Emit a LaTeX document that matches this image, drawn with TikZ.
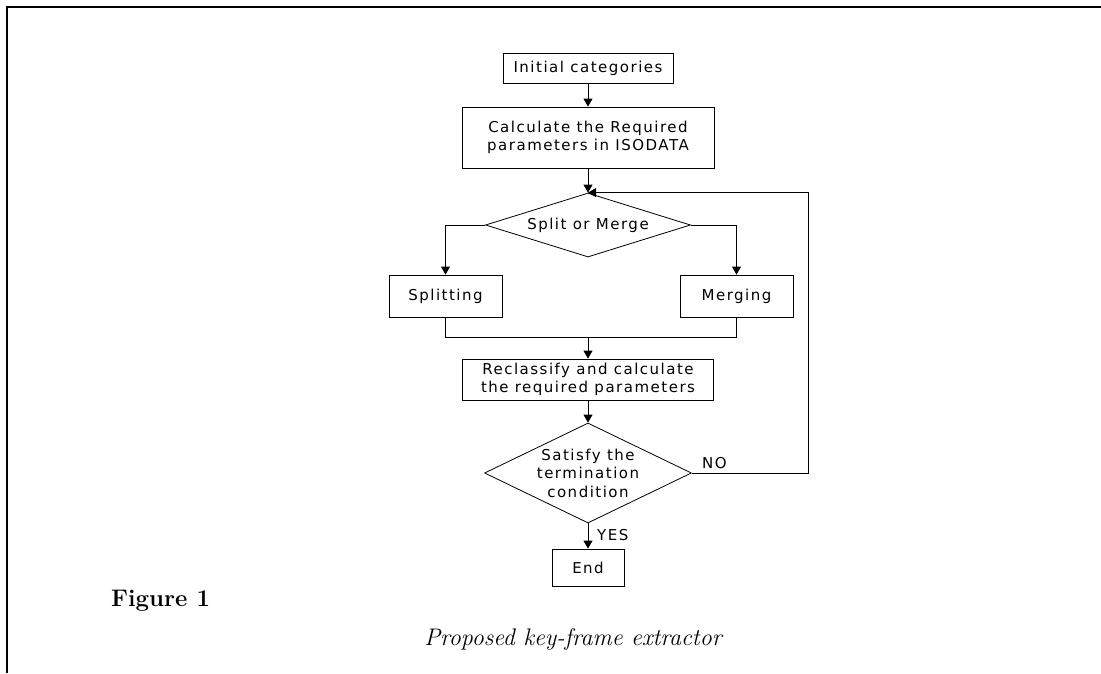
\documentclass[tikz,border=0pt]{standalone}
\usepackage{fontspec}
\newfontfamily\boxfont[LetterSpace=10]{DejaVu Sans}
\usetikzlibrary{shapes.geometric,arrows.meta}
\begin{document}
\begin{tikzpicture}[x=1pt,y=-1pt,
  boxtxt/.style={font=\boxfont\fontsize{15}{18.5}\selectfont},
  stepbox/.style={draw,line width=0.8pt,rectangle,inner sep=0pt,align=center,boxtxt},
  decide/.style={draw,line width=0.8pt,diamond,inner sep=0pt,align=center,boxtxt},
  conn/.style={line width=0.9pt},
  arr/.style={conn,-{Triangle[width=9pt,length=8pt]}},
  lbl/.style={boxtxt,inner sep=0pt}]
\useasboundingbox (0,0) rectangle (1101,673);
\draw[line width=1.5pt] (7,673) -- (7,7) -- (1101,7);

\node[stepbox,minimum width=170pt,minimum height=30pt] (init) at (588,68) {Initial categories};
\node[stepbox,minimum width=252pt,minimum height=61pt] (calc) at (588,137.5) {Calculate the Required\\parameters in ISODATA};
\node[decide,shape aspect=3.2,minimum width=205pt,minimum height=64pt] (split) at (588,225) {Split or Merge};
\node[stepbox,minimum width=113pt,minimum height=42pt] (spl) at (445.5,296) {Splitting};
\node[stepbox,minimum width=113pt,minimum height=42pt] (mrg) at (736.5,296) {Merging};
\node[stepbox,minimum width=251pt,minimum height=41pt] (recl) at (588,379.5) {Reclassify and calculate\\the required parameters};
\node[decide,shape aspect=2.07,minimum width=207pt,minimum height=100pt] (sat) at (588,473) {Satisfy the\\termination\\condition};
\node[stepbox,minimum width=72pt,minimum height=37pt] (end) at (588,567.5) {End};

\coordinate (jn) at (588,337);
\coordinate (fb) at (808,473);

\draw[arr] (init.south) -- (calc.north);
\draw[arr] (calc.south) -- (split.north);
\draw[arr] (split.west) -| (spl.north);
\draw[arr] (split.east) -| (mrg.north);
\draw[conn] (spl.south) -- (spl.south |- jn) -- (mrg.south |- jn) -- (mrg.south);
\draw[arr] (jn) -- (recl.north);
\draw[arr] (recl.south) -- (sat.north);
\draw[arr] (sat.east) -- (fb) |- (split.north);
\draw[arr] (sat.south) -- (end.north);

\node[lbl,anchor=base west] (no) at (702,468) {NO};
\node[lbl,anchor=base west] (yes) at (597,540) {YES};

\node[anchor=base west,inner sep=0pt,font=\bfseries\fontsize{24}{28}\selectfont] (fig) at (111,606) {Figure 1};
\node[anchor=base,inner sep=0pt,font=\itshape\fontsize{24}{28}\selectfont] (cap) at (573,645) {Proposed key-frame extractor};
\end{tikzpicture}
\end{document}
